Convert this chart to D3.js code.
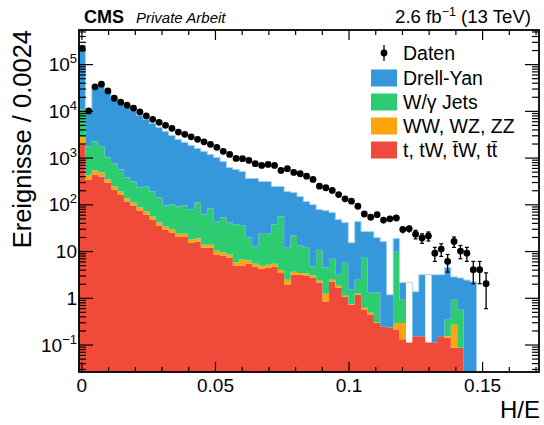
<!DOCTYPE html>
<html><head><meta charset="utf-8">
<script src="https://cdn.jsdelivr.net/npm/d3@7"></script>
<style>
body{margin:0;background:#fff}
svg{display:block}
text{font-family:"Liberation Sans",Arial,Helvetica,sans-serif;fill:#000}
</style>
</head><body>
<svg id="c" width="544" height="425"></svg>
<script>
// ---------- data ----------
const binStart = -0.0009, binWidth = 0.0024;
const dataCounts = [217000, 9950, 32600, 37200, 26700, 18600, 15300, 13200, 11400, 9470, 7780, 6600, 5690, 4910, 4230, 3520, 3150, 2780, 2460, 2170, 1920, 1660, 1360, 1170, 961, 947, 871, 740, 680, 715, 680, 531, 578, 481, 451, 401, 341, 245, 226, 198, 162, 131, 117, 91, 62, 53, 60, 46, 49, 51, 29, 30, 23, 19, 21, 9, 11, 6, 16, 10, 9, 4, 4, 2];
const ttbar = [1920, 341, 436, 395, 294, 208, 162, 115, 94, 74, 60, 47, 35, 29, 24.8, 20.4, 20.4, 15.1, 15.9, 11.8, 11.8, 8.4, 8.0, 7.2, 4.9, 4.9, 5.4, 4.6, 4.2, 4.4, 4.6, 3.4, 1.9, 3.1, 3.1, 3.0, 2.7, 2.1, 0.82, 2.2, 1.64, 1.05, 0.71, 1.16, 0.55, 0.43, 0.29, 0.24, 0.23, 0.21, 0.13, 0.11, 0.15, 0.15, 0.11, 0.11, 0.15, 0.14, 0.085, 0.085, 0, 0];
const diboson = [790, 74, 95, 86, 47, 33, 26, 18, 15, 12, 10, 8, 6, 4.6, 4, 3.2, 3.2, 2.5, 2.6, 1.9, 1.9, 1.8, 1.3, 1.15, 0.8, 1.7, 0.85, 0.74, 0.67, 0.7, 0.74, 0.55, 0.53, 0.5, 0.3, 0.3, 0.28, 0.22, 0.4, 0.23, 0.17, 0.05, 0.03, 0.06, 0.06, 0.05, 0.01, 0, 0, 0.08, 0.16, 0, 0, 0, 0, 0, 0, 0.01, 0.18, 0, 0, 0];
const wjets = [8100, 1325, 1700, 1260, 669, 510, 370, 243, 199, 144, 171, 133, 99, 61, 70, 66, 70.6, 59.7, 90.5, 46.7, 67.6, 32.5, 42.9, 32.3, 31.2, 28.5, 13.2, 7.0, 18.7, 18.5, 31.5, 50.7, 9.4, 17.8, 9.7, 8.5, 1.7, 8.4, 3.2, 4.4, 1.3, 4.5, 0.75, 1.2, 6.6, 0.8, 1.0, 0, 0, 9.4, 0.62, 0, 0, 0, 0, 0, 0, 0.19, 0.64, 0.47, 0, 0];
const drellyan = [245000, 8060, 29870, 33660, 24090, 16950, 13340, 11520, 9690, 7820, 6360, 5230, 4310, 3560, 2890, 2370, 2026, 1750, 1466, 1300, 1089, 967, 777, 575, 521, 471, 339, 346, 284, 284, 204, 186, 176, 158, 134, 103, 94, 66.6, 69, 59.8, 44, 35, 13.6, 40.3, 18.9, 24.8, 18.1, 15.7, 0.93, 8.8, 1.2, 0, 1.2, 2.97, 0, 3.0, 2.97, 4.06, 1.9, 2.1, 2.4, 2.2];
const seriesKeys = ["tt", "vv", "wj", "dy"];
const seriesNames = ["t, tW, t\u0304W, tt\u0304", "WW, WZ, ZZ", "W/\u03B3 Jets", "Drell-Yan"];
const seriesColors = ["#ef4a3a", "#fca50e", "#2ecc71", "#3498db"];
const xTickValues = [0, 0.05, 0.1, 0.15];
const xTickLabels = ["0", "0.05", "0.1", "0.15"];
const yTickExponents = [-1, 0, 1, 2, 3, 4, 5];

// ---------- layout ----------
const L = 79, R = 539, T = 30, B = 372;
const svg = d3.select("#c");
const x = d3.scaleLinear().domain([-0.0009, 0.1713]).range([L, R]);
const yMin = Math.pow(10, -1.588), yMax = Math.pow(10, 5.73);
const y = d3.scaleLog().domain([yMin, yMax]).range([B, T]);
const yc = v => (v <= yMin ? B : Math.max(T - 2, y(v)));

svg.append("defs").append("clipPath").attr("id", "clip")
  .append("rect").attr("x", L).attr("y", T).attr("width", R - L).attr("height", B - T);

// ---------- stacked histogram ----------
const nb = ttbar.length;
const rows = d3.range(nb).map(i => ({ tt: ttbar[i], vv: diboson[i], wj: wjets[i], dy: drellyan[i] }));
const stacked = d3.stack().keys(seriesKeys)(rows);
const g = svg.append("g").attr("clip-path", "url(#clip)");
const area = d3.area().curve(d3.curveStepAfter)
  .x(d => x(d.x)).y0(d => yc(d.y0)).y1(d => yc(d.y1));
stacked.forEach((s, k) => {
  const pts = s.map((d, i) => ({ x: binStart + i * binWidth, y0: d[0], y1: d[1] }));
  const last = pts[pts.length - 1];
  pts.push({ x: binStart + nb * binWidth, y0: last.y0, y1: last.y1 });
  g.append("path").datum(pts).attr("d", area).attr("fill", seriesColors[k]);
  if (k === 3) {
    const line = d3.line().curve(d3.curveStepAfter).x(d => x(d.x)).y(d => yc(d.y1));
    g.append("path").datum(pts.filter(d => d.y1 > 0.5)).attr("d", line)
      .attr("fill", "none").attr("stroke", "#a9d3f2").attr("stroke-width", 1);
  }
});

// ---------- data points ----------
const pts = dataCounts.map((n, i) => ({ x: binStart + (i + 0.5) * binWidth, n }));
const dg = g.append("g");
pts.forEach(p => {
  const e = Math.sqrt(p.n);
  const y1 = yc(p.n + e), y0 = yc(p.n - e);
  const cx = x(p.x);
  dg.append("line").attr("x1", cx).attr("x2", cx).attr("y1", y1).attr("y2", y0)
    .attr("stroke", "#000").attr("stroke-width", 1.3);
  if (y0 - y1 > 8) {
    [y0, y1].forEach(yy => dg.append("line").attr("x1", cx - 2).attr("x2", cx + 2)
      .attr("y1", yy).attr("y2", yy).attr("stroke", "#000").attr("stroke-width", 1.2));
  }
  dg.append("circle").attr("cx", cx).attr("cy", yc(p.n)).attr("r", 3.4).attr("fill", "#000");
});

// ---------- axes ----------
const xMinor = d3.range(0, 0.175, 0.01).map(v => +v.toFixed(3)).filter(v => !xTickValues.includes(v) && x(v) < R);
const yMinor = [];
for (let d = -2; d <= 5; d++) for (let m = 2; m <= 9; m++) {
  const v = m * Math.pow(10, d);
  if (v > yMin && v < yMax) yMinor.push(v);
}
const yMajor = yTickExponents.map(e => Math.pow(10, e));

function styleAxis(sel) {
  sel.select(".domain").remove();
  sel.selectAll("line").attr("stroke", "#000").attr("stroke-width", 1.2);
}
// bottom
svg.append("g").attr("transform", `translate(0,${B})`)
  .call(d3.axisBottom(x).tickValues(xTickValues).tickSize(-10).tickPadding(7)
    .tickFormat((d, i) => xTickLabels[i]))
  .call(styleAxis)
  .call(s => s.selectAll("text").attr("font-size", 19).attr("font-family", "Liberation Sans, Arial, sans-serif"));
svg.append("g").attr("transform", `translate(0,${B})`)
  .call(d3.axisBottom(x).tickValues(xMinor).tickSize(-5).tickFormat(""))
  .call(styleAxis);
// top
svg.append("g").attr("transform", `translate(0,${T})`)
  .call(d3.axisTop(x).tickValues(xTickValues).tickSize(-10).tickFormat(""))
  .call(styleAxis);
svg.append("g").attr("transform", `translate(0,${T})`)
  .call(d3.axisTop(x).tickValues(xMinor).tickSize(-5).tickFormat(""))
  .call(styleAxis);
// left
svg.append("g").attr("transform", `translate(${L},0)`)
  .call(d3.axisLeft(y).tickValues(yMajor).tickSize(-14).tickPadding(2).tickFormat(""))
  .call(styleAxis);
svg.append("g").attr("transform", `translate(${L},0)`)
  .call(d3.axisLeft(y).tickValues(yMinor).tickSize(-7).tickFormat(""))
  .call(styleAxis);
// right
svg.append("g").attr("transform", `translate(${R},0)`)
  .call(d3.axisRight(y).tickValues(yMajor).tickSize(-14).tickFormat(""))
  .call(styleAxis);
svg.append("g").attr("transform", `translate(${R},0)`)
  .call(d3.axisRight(y).tickValues(yMinor).tickSize(-7).tickFormat(""))
  .call(styleAxis);

// y tick labels with superscripts
yTickExponents.forEach(e => {
  const t = svg.append("text").attr("x", L - 2).attr("y", y(Math.pow(10, e)) + 7)
    .attr("text-anchor", "end").attr("font-size", 19);
  if (e === 0) t.text("1");
  else if (e === 1) t.text("10");
  else {
    t.append("tspan").text("10");
    t.append("tspan").attr("dy", -8).attr("font-size", 13).text(e < 0 ? "\u2212" + (-e) : String(e));
  }
});

// frame
svg.append("rect").attr("x", L).attr("y", T).attr("width", R - L).attr("height", B - T)
  .attr("fill", "none").attr("stroke", "#000").attr("stroke-width", 1.8);

// axis titles
svg.append("text").attr("transform", `translate(31,${T}) rotate(-90)`)
  .attr("text-anchor", "end").attr("font-size", 25.5).text("Ereignisse / 0.0024");
svg.append("text").attr("x", 540).attr("y", 418).attr("text-anchor", "end")
  .attr("font-size", 24).text("H/E");

// header
svg.append("text").attr("x", 84).attr("y", 23).attr("font-size", 18)
  .attr("font-weight", "bold").text("CMS");
svg.append("text").attr("x", 136).attr("y", 23).attr("font-size", 15)
  .attr("font-style", "italic").text("Private Arbeit");
const lumi = svg.append("text").attr("x", 531).attr("y", 23).attr("text-anchor", "end").attr("font-size", 18.6);
lumi.append("tspan").text("2.6 fb");
lumi.append("tspan").attr("dy", -7).attr("font-size", 12.5).text("\u22121");
lumi.append("tspan").attr("dy", 7).text(" (13 TeV)");

// legend
const lg = svg.append("g");
const rowY = [53, 78, 102, 126, 150];
lg.append("line").attr("x1", 384).attr("x2", 384).attr("y1", rowY[0] - 8).attr("y2", rowY[0] + 8)
  .attr("stroke", "#000").attr("stroke-width", 1.3);
lg.append("circle").attr("cx", 384).attr("cy", rowY[0]).attr("r", 3.4).attr("fill", "#000");
lg.append("text").attr("x", 403).attr("y", rowY[0] + 7).attr("font-size", 19.5).text("Daten");
[3, 2, 1, 0].forEach((k, j) => {
  const cy = rowY[j + 1];
  lg.append("rect").attr("x", 371).attr("y", cy - 8.5).attr("width", 26).attr("height", 17)
    .attr("fill", seriesColors[k]);
  lg.append("text").attr("x", 403).attr("y", cy + 7).attr("font-size", 19.5).text(seriesNames[k]);
});
</script>
</body></html>
